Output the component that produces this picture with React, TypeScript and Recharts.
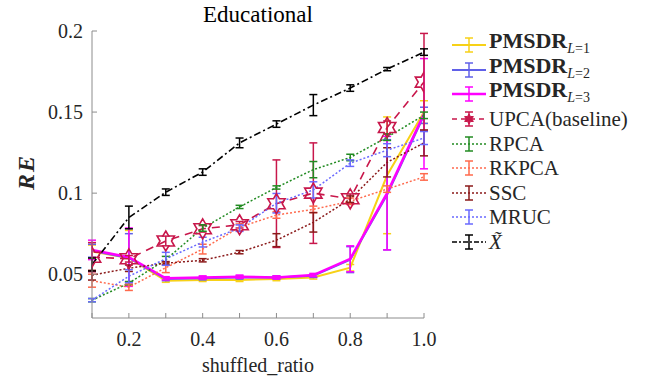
import React from 'react';
import { LineChart, Line, XAxis, YAxis, ErrorBar } from 'recharts';

const RATIOS = [0.1, 0.2, 0.3, 0.4, 0.5, 0.6, 0.7, 0.8, 0.9, 1.0];
const X_TICK_LABELS = ['', '0.2', '', '0.4', '', '0.6', '', '0.8', '', '1.0'];
const Y_TICKS = [0.05, 0.1, 0.15, 0.2];
const Y_TICK_LABELS = ['0.05', '0.1', '0.15', '0.2'];

const PMSDR1 = [0.064, 0.06, 0.046, 0.0465, 0.0465, 0.047, 0.048, 0.054, 0.111, 0.15];
const PMSDR1_ERR = [0.004, 0.017, 0.001, 0.001, 0.001, 0.001, 0.001, 0.002, 0.036, 0.007];
const PMSDR2 = [0.0645, 0.06, 0.047, 0.0475, 0.048, 0.048, 0.049, 0.059, 0.099, 0.148];
const PMSDR2_ERR = [0.004, 0.015, 0.001, 0.001, 0.001, 0.001, 0.001, 0.008, 0.034, 0.005];
const PMSDR3 = [0.065, 0.0605, 0.0475, 0.048, 0.0485, 0.048, 0.0495, 0.0595, 0.1, 0.149];
const PMSDR3_ERR = [0.006, 0.018, 0.001, 0.001, 0.001, 0.001, 0.001, 0.008, 0.035, 0.034];
const UPCA = [0.0605, 0.0595, 0.0705, 0.078, 0.0805, 0.0935, 0.1, 0.0965, 0.1405, 0.1685];
const UPCA_ERR = [0.009, 0.002, 0.003, 0.002, 0.002, 0.027, 0.031, 0.003, 0.004, 0.03];
const RPCA = [0.034, 0.0445, 0.059, 0.0785, 0.0915, 0.1035, 0.1145, 0.122, 0.1345, 0.148];
const RPCA_ERR = [0.001, 0.001, 0.002, 0.002, 0.001, 0.001, 0.005, 0.002, 0.002, 0.002];
const RKPCA = [0.046, 0.042, 0.054, 0.0655, 0.079, 0.0865, 0.09, 0.095, 0.1025, 0.11];
const RKPCA_ERR = [0.004, 0.002, 0.003, 0.003, 0.002, 0.002, 0.002, 0.002, 0.002, 0.002];
const SSC = [0.0494, 0.0537, 0.0568, 0.0586, 0.0636, 0.071, 0.082, 0.0963, 0.119, 0.131];
const SSC_ERR = [0.003, 0.002, 0.001, 0.001, 0.001, 0.004, 0.006, 0.002, 0.009, 0.008];
const MRUC = [0.034, 0.0488, 0.0595, 0.0698, 0.0784, 0.0938, 0.102, 0.1185, 0.1265, 0.134];
const MRUC_ERR = [0.001, 0.004, 0.004, 0.003, 0.002, 0.006, 0.005, 0.002, 0.004, 0.004];
const XTILDE = [0.056, 0.085, 0.1006, 0.113, 0.131, 0.1426, 0.1543, 0.1648, 0.1765, 0.187];
const XTILDE_ERR = [0.004, 0.007, 0.002, 0.002, 0.003, 0.002, 0.0065, 0.002, 0.001, 0.002];

const SERIF = '"Liberation Serif", "Times New Roman", Tinos, Times, "DejaVu Serif", serif';
const AXIS_GRAY = '#8c8c8c';

type Series = {
  key: string;
  name: string;
  sub?: string;
  color: string;
  width: number;
  dash?: string;
  legendDash?: string;
  star?: boolean;
  values: number[];
  errors: number[];
};

const SERIES: Series[] = [
  { key: 'p1', name: 'PMSDR', sub: '1', color: '#f7d117', width: 2, values: PMSDR1, errors: PMSDR1_ERR },
  { key: 'p2', name: 'PMSDR', sub: '2', color: '#6060e8', width: 2, values: PMSDR2, errors: PMSDR2_ERR },
  { key: 'p3', name: 'PMSDR', sub: '3', color: '#ff00ff', width: 2.5, values: PMSDR3, errors: PMSDR3_ERR },
  { key: 'upca', name: 'UPCA(baseline)', color: '#c8174b', width: 1.6, dash: '8 6', legendDash: '5 4', star: true, values: UPCA, errors: UPCA_ERR },
  { key: 'rpca', name: 'RPCA', color: '#228b22', width: 1.5, dash: '2 2', values: RPCA, errors: RPCA_ERR },
  { key: 'rkpca', name: 'RKPCA', color: '#ff6a4d', width: 1.5, dash: '2 2', values: RKPCA, errors: RKPCA_ERR },
  { key: 'ssc', name: 'SSC', color: '#8b1a1a', width: 1.5, dash: '2 2', values: SSC, errors: SSC_ERR },
  { key: 'mruc', name: 'MRUC', color: '#6a6aff', width: 1.5, dash: '2 2', values: MRUC, errors: MRUC_ERR },
  { key: 'xt', name: 'X\u0303', color: '#000000', width: 1.6, dash: '7 3 2 3', legendDash: '5 2 2 2', values: XTILDE, errors: XTILDE_ERR },
];

const data = RATIOS.map((x, i) => {
  const row: Record<string, number> = { x };
  SERIES.forEach((s) => {
    row[s.key] = s.values[i];
    row[s.key + 'Err'] = s.errors[i];
  });
  return row;
});

const hexagram = (cx: number, cy: number, r: number) => {
  const pts: string[] = [];
  for (let i = 0; i < 12; i++) {
    const a = -Math.PI / 2 + (i * Math.PI) / 6;
    const rr = i % 2 === 0 ? r : r / Math.sqrt(3);
    pts.push(`${cx + rr * Math.cos(a)},${cy + rr * Math.sin(a)}`);
  }
  return pts.join(' ');
};

const LegendIcon = ({ s }: { s: Series }) => (
  <svg width={36} height={24} style={{ flex: 'none' }}>
    <line x1={0} y1={12} x2={34} y2={12} stroke={s.color} strokeWidth={s.width} strokeDasharray={s.legendDash ?? s.dash} />
    <line x1={17} y1={5} x2={17} y2={19} stroke={s.color} strokeWidth={1.5} />
    <line x1={13} y1={5} x2={21} y2={5} stroke={s.color} strokeWidth={1.5} />
    <line x1={13} y1={19} x2={21} y2={19} stroke={s.color} strokeWidth={1.5} />
    {s.star && <polygon points={hexagram(17, 12, 5)} fill={s.color} stroke={s.color} strokeWidth={1} />}
  </svg>
);

export default function App() {
  return (
    <div style={{ position: 'absolute', left: 0, top: 0, width: 648, height: 379, background: '#fff', fontFamily: SERIF }}>
      <LineChart width={648} height={379} data={data} margin={{ top: 31, right: 224, bottom: 31, left: 0 }} style={{ fontFamily: SERIF }}>
        <XAxis
          dataKey="x"
          type="number"
          domain={[0.1, 1.0]}
          allowDataOverflow
          ticks={RATIOS}
          tickFormatter={(v: number) => X_TICK_LABELS[RATIOS.findIndex((r) => Math.abs(r - v) < 1e-6)] ?? ''}
          height={30}
          tickSize={-5}
          tickMargin={19}
          stroke={AXIS_GRAY}
          tick={{ fontSize: 20, fontFamily: SERIF, fill: '#262626' }}
        />
        <YAxis
          type="number"
          domain={[0.023, 0.2]}
          allowDataOverflow
          ticks={Y_TICKS}
          tickFormatter={(v: number) => Y_TICK_LABELS[Y_TICKS.findIndex((t) => Math.abs(t - v) < 1e-6)] ?? ''}
          width={92}
          tickSize={-5}
          tickMargin={14}
          stroke={AXIS_GRAY}
          tick={{ fontSize: 20, fontFamily: SERIF, fill: '#262626' }}
        />
        <XAxis
          xAxisId="top"
          orientation="top"
          type="number"
          domain={[0.1, 1.0]}
          allowDataOverflow
          ticks={RATIOS}
          tickFormatter={() => ''}
          height={0}
          tickSize={-5}
          stroke={AXIS_GRAY}
        />
        <YAxis
          yAxisId="right"
          orientation="right"
          type="number"
          domain={[0.023, 0.2]}
          allowDataOverflow
          ticks={Y_TICKS}
          tickFormatter={() => ''}
          width={0}
          tickSize={-5}
          stroke={AXIS_GRAY}
        />
        {SERIES.map((s) => (
          <Line
            key={s.key}
            type="linear"
            dataKey={s.key}
            stroke={s.color}
            strokeWidth={s.width}
            strokeDasharray={s.dash}
            isAnimationActive={false}
            dot={
              s.star
                ? (p: any) => (
                    <polygon
                      key={`star-${p.index}`}
                      points={hexagram(p.cx, p.cy, 10)}
                      fill="none"
                      stroke={s.color}
                      strokeWidth={1.6}
                    />
                  )
                : false
            }
            activeDot={false}
          >
            <ErrorBar dataKey={s.key + 'Err'} direction="y" width={4} stroke={s.color} strokeWidth={1.5} isAnimationActive={false} />
          </Line>
        ))}
        <text x={258} y={22} textAnchor="middle" fontFamily={SERIF} fontSize={23} fill="#000">
          Educational
        </text>
        <text x={258} y={372} textAnchor="middle" fontFamily={SERIF} fontSize={20} fill="#262626">
          shuffled_ratio
        </text>
        <text
          x={34}
          y={172}
          textAnchor="middle"
          transform="rotate(-90 34 172)"
          fontFamily={SERIF}
          fontSize={24}
          fontWeight="bold"
          fontStyle="italic"
          letterSpacing={2}
          fill="#262626"
        >
          RE
        </text>
      </LineChart>
      <div style={{ position: 'absolute', left: 452, top: 33, fontFamily: SERIF, color: '#262626' }}>
        {SERIES.map((s) => (
          <div key={s.key} style={{ display: 'flex', alignItems: 'center', height: 24.6 }}>
            <LegendIcon s={s} />
            <span style={{ fontSize: 21, lineHeight: '24px', whiteSpace: 'nowrap', marginLeft: 1 }}>
              {s.sub ? (
                <>
                  <b style={{ fontSize: 22 }}>{s.name}</b>
                  <sub style={{ fontSize: 14 }}>
                    <i>L</i>=<span>{s.sub}</span>
                  </sub>
                </>
              ) : s.key === 'xt' ? (
                <i>{s.name}</i>
              ) : (
                s.name
              )}
            </span>
          </div>
        ))}
      </div>
    </div>
  );
}
